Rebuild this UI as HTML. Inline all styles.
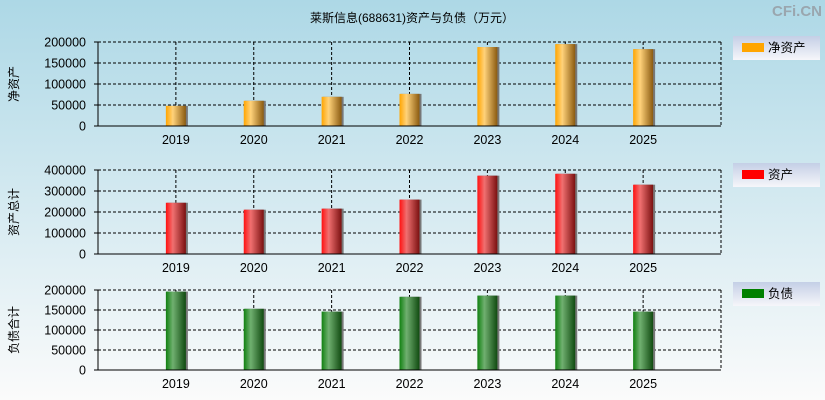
<!DOCTYPE html>
<html><head><meta charset="utf-8"><style>
body{margin:0;width:825px;height:400px;overflow:hidden}
svg{display:block;font-family:"Liberation Sans","Noto Sans CJK SC",sans-serif}
</style></head><body>
<svg id="c" width="825" height="400" xmlns="http://www.w3.org/2000/svg">
<defs>
<linearGradient id="bg" x1="0" y1="0" x2="0" y2="1"><stop offset="0" stop-color="#add8e6"/><stop offset="1" stop-color="#fbfbfb"/></linearGradient>
<linearGradient id="lg" x1="0" y1="0" x2="0" y2="1"><stop offset="0" stop-color="#c4cfe6"/><stop offset="1" stop-color="#f6f6fa"/></linearGradient>
<linearGradient id="g0" x1="0" x2="1"><stop offset="0" stop-color="#ffa500"/><stop offset="0.35" stop-color="#ffd27a"/><stop offset="1" stop-color="#8a5a10"/></linearGradient>
<linearGradient id="g1" x1="0" x2="1"><stop offset="0" stop-color="#ff1010"/><stop offset="0.35" stop-color="#f07070"/><stop offset="1" stop-color="#7a1010"/></linearGradient>
<linearGradient id="g2" x1="0" x2="1"><stop offset="0" stop-color="#108010"/><stop offset="0.35" stop-color="#70b070"/><stop offset="1" stop-color="#104a10"/></linearGradient>
</defs>
<rect width="825" height="400" fill="url(#bg)"/>
<text x="412" y="22" text-anchor="middle" font-size="12" fill="#000">莱斯信息(688631)资产与负债（万元）</text>
<text x="822" y="16" text-anchor="end" font-size="15" font-weight="bold" fill="#9aa6ae">CFi.CN</text>
<g id="plots"></g>
</svg>
<script>
const categories=['2019','2020','2021','2022','2023','2024','2025'];
const netAssets=[48000,60000,69500,76500,188000,195000,183000];
const totalAssets=[244000,211000,216000,259000,373000,382000,330000];
const liabilities=[196000,153000,146000,183000,186000,186000,146000];
const ticks1=[0,50000,100000,150000,200000];
const ticks2=[0,100000,200000,300000,400000];
const ticks3=[0,50000,100000,150000,200000];
const NS='http://www.w3.org/2000/svg';
const g=document.getElementById('plots');
function mk(t,a,p){const e=document.createElementNS(NS,t);for(const k in a)e.setAttribute(k,a[k]);(p||g).appendChild(e);return e;}
const X0=98,X1=721;
function xs(i){return X0+(X1-X0)/8*(i+1);}
const panels=[
 {vals:netAssets,ticks:ticks1,max:200000,top:42,bot:126,fill:'url(#g0)',sw:'#ffa500',name:'净资产',ytitle:'净资产',ly:36,key:'net-assets'},
 {vals:totalAssets,ticks:ticks2,max:400000,top:170,bot:254,fill:'url(#g1)',sw:'#ff0000',name:'资产',ytitle:'资产总计',ly:163,key:'total-assets'},
 {vals:liabilities,ticks:ticks3,max:200000,top:290,bot:370,fill:'url(#g2)',sw:'#008000',name:'负债',ytitle:'负债合计',ly:282,key:'liabilities'}
];
panels.forEach(p=>{
 const ys=v=>p.bot-(v/p.max)*(p.bot-p.top);
 const pg=mk('g',{});
 
 
 p.ticks.forEach(t=>{
  const y=ys(t);
  if(t>0){const l=mk('line',{x1:X0,x2:X1,y1:y,y2:y,stroke:'#000','stroke-dasharray':'3,2','stroke-width':1},pg);
   }
  mk('line',{x1:X0-4,x2:X0,y1:y,y2:y,stroke:'#000'},pg);
  const tx=mk('text',{x:X0-12,y:y+4.5,'text-anchor':'end','font-size':12.5},pg);tx.textContent=t;
  
 });
 categories.forEach((c,i)=>{
  const x=xs(i);
  const l=mk('line',{x1:x,x2:x,y1:p.top,y2:p.bot,stroke:'#000','stroke-dasharray':'3,2'},pg);
  
  const y=ys(p.vals[i]);
  mk('rect',{x:x-9,y:y,width:21,height:p.bot-y,fill:'#777'},pg);
  const b=mk('rect',{x:x-10,y:y,width:20,height:p.bot-y,fill:p.fill},pg);
  
  const tx=mk('text',{x:x,y:p.bot+18,'text-anchor':'middle','font-size':12.5},pg);tx.textContent=c;
  
 });
 mk('line',{x1:X0,x2:X1,y1:p.top,y2:p.top,stroke:'#000','stroke-dasharray':'3,2'},pg);
 mk('line',{x1:X1,x2:X1,y1:p.top,y2:p.bot,stroke:'#000','stroke-dasharray':'3,2'},pg);
 mk('line',{x1:X0,x2:X0,y1:p.top,y2:p.bot,stroke:'#000'},pg);
 mk('line',{x1:X0,x2:X1,y1:p.bot,y2:p.bot,stroke:'#000'},pg);
 const cy=(p.top+p.bot)/2;
 const yt=mk('text',{x:0,y:0,'text-anchor':'middle','font-size':12,transform:`translate(18,${cy}) rotate(-90)`},pg);yt.textContent=p.ytitle;
 
 const lg=mk('g',{},pg);
 
 mk('rect',{x:733,y:p.ly,width:87,height:24,fill:'url(#lg)'},lg);
 mk('rect',{x:742,y:p.ly+7,width:22,height:9,fill:p.sw},lg);
 const lt=mk('text',{x:768,y:p.ly+16,'font-size':12.5},lg);lt.textContent=p.name;
});
</script>
</body></html>
